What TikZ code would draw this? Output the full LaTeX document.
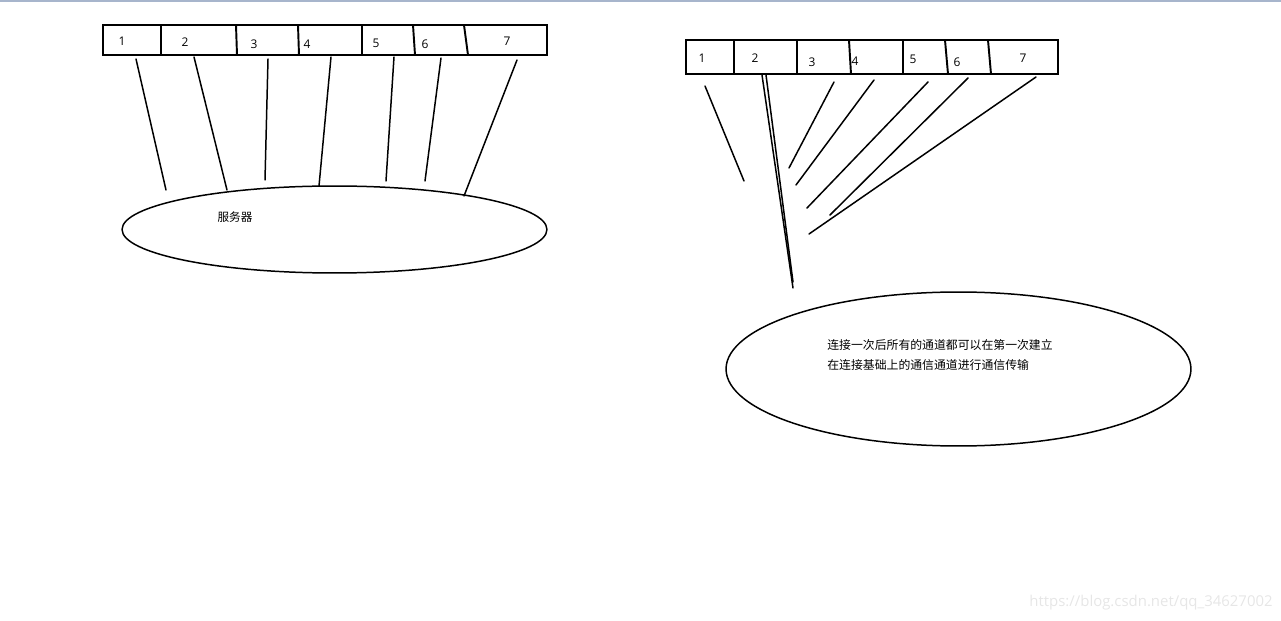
\documentclass[tikz,border=0pt]{standalone}
\usepackage{fontspec}
\setmainfont{Open Sans}
\newfontfamily\cjk{Noto Sans CJK SC}
\usetikzlibrary{shapes.geometric}
\definecolor{topbar}{HTML}{A7B5CC}
\definecolor{wmark}{HTML}{E6E6E6}
\tikzset{
  cellline/.style={line width=1.1pt},
  wire/.style={line width=0.85pt, line cap=round},
  pool/.style={draw, ellipse, line width=0.85pt, inner sep=0pt},
  num/.style={font=\fontsize{6.8}{8}\selectfont, inner sep=0pt},
}
\begin{document}
\begin{tikzpicture}[x=0.02cm,y=-0.02cm]
  \useasboundingbox (0,0) rectangle (1281,621);
  \draw[topbar, line width=1.2pt] (0,0.5) -- (1281,0.5);
  % left: one channel per request
  \draw[cellline] (103,25) rectangle (547,55);
  \foreach \xa/\xb in {161/161,236/237,298/299,362/362,413/415,464/468}{
    \draw[cellline] (\xa,25) -- (\xb,55);
  }
  \foreach \n/\x/\y in {1/122/41,2/185/42,3/254/44,4/307/44,5/376/43,6/425/44,7/507/41}{
    \node[num] (l\n) at (\x,\y) {\n};
  }
  \foreach \xa/\ya/\xb/\yb in {136/59/166/190,194/57/227/190,268/59/265/180,331/57/319/186,394/57/386/181,441/58/425/181,517/60/464/196}{
    \draw[wire] (\xa,\ya) -- (\xb,\yb);
  }
  \node[pool, minimum width=8.5cm, minimum height=1.74cm] (server) at (334.5,229.5) {};
  \node[font=\cjk\fontsize{6.6}{8}\selectfont, inner sep=0pt] (servertext) at (235,217) {服务器};
  % right: channels reuse the first connection
  \draw[cellline] (686,40) rectangle (1058,74);
  \foreach \xa/\xb in {734/734,797/797,849/851,903/903,945/948,988/991}{
    \draw[cellline] (\xa,40) -- (\xb,74);
  }
  \foreach \n/\x/\y in {1/702/58,2/755/58,3/812/62,4/855/61,5/913/59,6/957/62,7/1023/58}{
    \node[num] (r\n) at (\x,\y) {\n};
  }
  \foreach \xa/\ya/\xb/\yb in {705/86/744/181,762/75/793/288,766/75/793/282,834/82/789/168,874/80/796/185,928/82/807/208,968/78/830/215,1036/77/809/234}{
    \draw[wire] (\xa,\ya) -- (\xb,\yb);
  }
  \node[pool, minimum width=9.3cm, minimum height=3.08cm] (link) at (958.5,369) {};
  \node[font=\cjk\fontsize{6.75}{11.4}\selectfont, align=left, anchor=west, inner sep=0pt] (linktext) at (827,355)
    {连接一次后所有的通道都可以在第一次建立\\在连接基础上的通信通道进行通信传输};
  \node[wmark, font=\fontsize{8.5}{10}\selectfont, inner sep=0pt] (mark) at (1151,603) {https://blog.csdn.net/qq\_34627002};
\end{tikzpicture}
\end{document}
